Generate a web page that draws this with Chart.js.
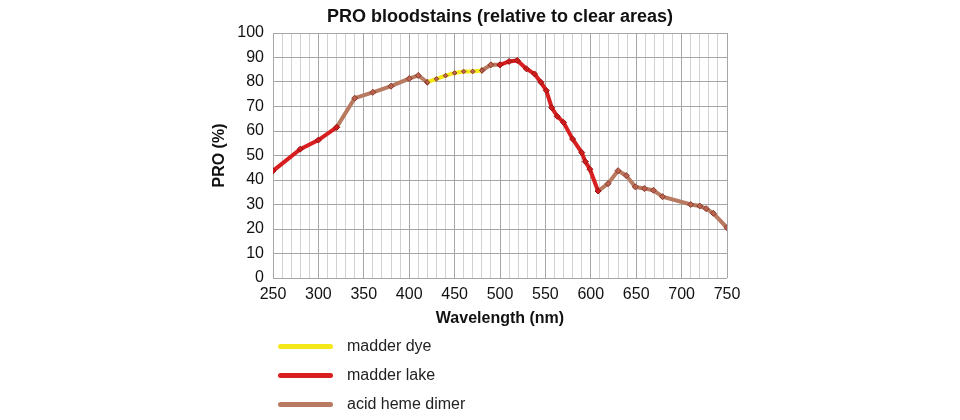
<!DOCTYPE html>
<html>
<head>
<meta charset="utf-8">
<script src="https://cdn.jsdelivr.net/npm/chart.js@4/dist/chart.umd.min.js"></script>
<style>
  body { margin: 0; background: #fff; }
  #wrap { position: relative; width: 960px; height: 420px; }
  .leg { position: absolute; left: 278px; font: 16px "Liberation Sans", Arial, sans-serif; color: #222; }
  .leg span { display: inline-block; width: 55px; height: 5px; border-radius: 3px; vertical-align: middle; margin-right: 14px; }
</style>
</head>
<body>
<div id="wrap">
  <canvas id="proChart" width="960" height="420"></canvas>
  <div class="leg" style="top:337px"><span style="background:#f5e81a"></span>madder dye</div>
  <div class="leg" style="top:366px"><span style="background:#d81e1e"></span>madder lake</div>
  <div class="leg" style="top:395px"><span style="background:#b87a60"></span>acid heme dimer</div>
</div>
<script>
// wavelengths (nm) and PRO (%) per series, null = gap in the line
const madderDyeNm  = [420, 430, 440, 450, 460, 470, 480];
const madderDyePro = [79.9, 81.3, 82.6, 83.7, 84.3, 84.3, 84.7];

const madderLakeNm  = [250, 280, 300, 320, 410, 500, 510, 519, 529, 538, 545, 551, 557, 563, 570, 580, 590, 594, 599, 608];
const madderLakePro = [43.7, 52.6, 56.3, 61.5, null, 87, 88.4, 88.8, 85.4, 83.3, 79.9, 76.5, 69.5, 66, 63.5, 56.7, 51.2, 47.5, 44.4, 35.5];

const hemeNm  = [320, 340, 360, 380, 400, 410, 420, 450, 480, 490, 500, 550, 608, 619, 630, 639, 649, 659, 669, 679, 710, 720, 727, 735, 750];
const hemePro = [61.5, 73.4, 75.8, 78.3, 81.4, 82.7, 79.9, null, 84.7, 87, 87, null, 35.5, 38.5, 43.8, 41.8, 37.2, 36.5, 35.8, 33.2, 30, 29.4, 28.3, 26.4, 20.5];

const xTicks = [250, 300, 350, 400, 450, 500, 550, 600, 650, 700, 750];

function pts(xs, ys) {
  return xs.map((x, i) => ({ x: x, y: ys[i] }));
}

const font = "'Liberation Sans', Arial, sans-serif";

new Chart(document.getElementById('proChart'), {
  type: 'line',
  data: {
    datasets: [
      {
        label: 'acid heme dimer',
        data: pts(hemeNm, hemePro),
        borderColor: '#b87a60',
        borderWidth: 4,
        pointStyle: 'rectRot',
        pointRadius: 3,
        pointBackgroundColor: '#b8644f',
        pointBorderColor: '#8e3a2e',
        pointBorderWidth: 1,
        spanGaps: false,
        order: 3
      },
      {
        label: 'madder lake',
        data: pts(madderLakeNm, madderLakePro),
        borderColor: '#d81e1e',
        borderWidth: 4,
        pointStyle: 'rectRot',
        pointRadius: 3,
        pointBackgroundColor: '#d01c1c',
        pointBorderColor: '#9a1414',
        pointBorderWidth: 1,
        spanGaps: false,
        order: 2
      },
      {
        label: 'madder dye',
        data: pts(madderDyeNm, madderDyePro),
        borderColor: '#f5e81a',
        borderWidth: 4,
        pointStyle: 'rectRot',
        pointRadius: 2.3,
        pointBackgroundColor: '#b8644f',
        pointBorderColor: '#8e3a2e',
        pointBorderWidth: 1,
        order: 1
      }
    ]
  },
  options: {
    responsive: false,
    animation: false,
    layout: { padding: { left: 206, right: 233, top: 0, bottom: 88 } },
    plugins: {
      legend: { display: false },
      tooltip: { enabled: false },
      title: {
        display: true,
        fullSize: false,
        text: 'PRO bloodstains (relative to clear areas)',
        color: '#111',
        font: { family: font, size: 18, weight: 'bold', lineHeight: 1.2 },
        padding: { top: 6, bottom: 5.4 }
      }
    },
    scales: {
      x: {
        type: 'linear',
        min: 250,
        max: 750,
        afterFit: (s) => { s.height = 54; },
        grid: {
          drawTicks: false,
          color: (c) => xTicks.includes(c.tick.value) ? '#a6a6a6' : '#d2d2d2',
          lineWidth: 1
        },
        border: { display: false },
        ticks: {
          stepSize: 10,
          autoSkip: false,
          maxRotation: 0,
          padding: 7,
          color: '#111',
          font: { family: font, size: 16 },
          callback: (v) => xTicks.includes(v) ? v : ''
        },
        title: {
          display: true,
          text: 'Wavelength (nm)',
          color: '#111',
          font: { family: font, size: 16, weight: 'bold', lineHeight: 1.2 },
          padding: { top: 4, bottom: 4 }
        }
      },
      y: {
        min: 0,
        max: 100,
        afterFit: (s) => { s.width = 67; },
        grid: { drawTicks: false, color: '#a6a6a6' },
        border: { display: false },
        ticks: {
          stepSize: 10,
          padding: 9,
          color: '#111',
          font: { family: font, size: 16 }
        },
        title: {
          display: true,
          text: 'PRO (%)',
          color: '#111',
          font: { family: font, size: 16, weight: 'bold', lineHeight: 1.2 },
          padding: { top: 4, bottom: 4 }
        }
      }
    }
  }
});
</script>
</body>
</html>
